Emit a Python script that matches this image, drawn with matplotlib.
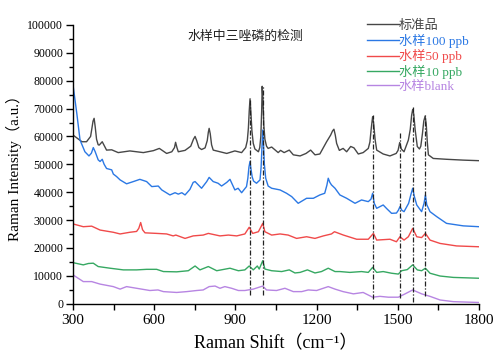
import matplotlib
matplotlib.use("Agg")
import matplotlib.pyplot as plt
import numpy as np

# wavenumber / intensity (x1000)
std_x = [300, 333, 350, 365, 370, 374, 378, 382, 387, 393, 397, 408, 424, 443, 467, 510, 560, 597, 619,
         646, 665, 675, 679, 684, 689, 714, 735, 745, 751, 757, 765, 775, 788, 796, 800, 803, 807, 812,
         818, 843, 868, 898, 923, 938, 944, 948, 951, 954, 957, 961, 966, 972, 985, 990, 994, 997, 999,
         1002, 1005, 1009, 1015, 1021, 1034, 1058, 1067, 1080, 1099, 1114, 1139, 1161, 1178, 1194, 1212,
         1237, 1252, 1259, 1264, 1269, 1274, 1284, 1298, 1311, 1326, 1338, 1354, 1372, 1391, 1397, 1402,
         1407, 1411, 1416, 1422, 1446, 1471, 1494, 1501, 1507, 1513, 1523, 1539, 1546, 1551, 1555, 1559,
         1564, 1572, 1580, 1585, 1591, 1596, 1601, 1605, 1609, 1613, 1631, 1680, 1742, 1800]
std_y = [60.5, 58.1, 58.1, 60, 63, 65.5, 66.5, 63.5, 59, 57, 56.9, 58.1, 55.1, 55.2, 54.2, 54.8, 54.2,
         54.9, 55.7, 53.9, 54.5, 56, 57.9, 56, 54.5, 55, 56.5, 59, 60, 58.5, 56, 55.3, 55.9, 58.5, 61.5,
         62.9, 61, 57, 55.1, 54.5, 53.9, 54.8, 54.2, 56, 58.5, 63, 69, 73.5, 69, 62, 57.5, 55.5, 54.5,
         56, 60, 69, 78, 73, 64, 59, 56.5, 55.7, 56.2, 54.2, 55, 54.2, 55.1, 53.4, 53, 53.9, 55.1, 53.4,
         53.7, 58.1, 60.5, 62, 62.6, 60.5, 57.5, 55, 55.7, 54.5, 56.4, 55.9, 53.7, 54.2, 55.7, 58, 63,
         67.1, 64.5, 59, 55.1, 53.7, 53, 53.9, 55, 57.8, 55.5, 54.5, 58.7, 62.5, 67.5, 69.7, 68, 62.5,
         56.4, 55.5, 56.5, 61, 65.5, 67.3, 64.5, 58, 53.4, 52.1, 51.8, 51.5, 51.3]

p100_x = [300, 314, 326, 344, 359, 368, 375, 382, 393, 400, 408, 415, 424, 443, 449, 461, 474, 498, 523,
          547, 572, 591, 615, 628, 658, 677, 689, 702, 714, 732, 744, 751, 763, 775, 794, 803, 818, 836,
          849, 868, 880, 898, 910, 923, 941, 946, 950, 954, 958, 962, 967, 978, 991, 995, 998, 1001, 1004,
          1007, 1012, 1021, 1034, 1065, 1089, 1108, 1132, 1163, 1188, 1212, 1230, 1238, 1243, 1249, 1255,
          1268, 1286, 1311, 1342, 1366, 1391, 1401, 1407, 1413, 1422, 1446, 1460, 1477, 1495, 1502, 1508,
          1515, 1523, 1540, 1548, 1555, 1561, 1570, 1588, 1597, 1602, 1607, 1619, 1644, 1680, 1742, 1800]
p100_y = [78.5, 68.3, 58.7, 54.5, 53, 54, 56, 54.5, 51.6, 51, 51.8, 50, 48.5, 48, 46.5, 45.6, 44.4, 43,
          43.8, 44.6, 43.8, 42, 42.2, 40.8, 39, 39.8, 39.3, 39.8, 39, 41, 43.5, 43.8, 42.6, 41.4, 43.8,
          45.3, 43.8, 43.2, 42.2, 43.5, 44.6, 40.8, 41.4, 39.8, 42, 45, 49, 51, 48, 45.5, 44, 43.2, 44.4,
          49, 56, 62.3, 57, 50, 45, 42.2, 41.4, 40.8, 39.6, 38.4, 36, 37.8, 37.8, 39, 39.6, 42.5, 45, 43.5,
          42.6, 41.4, 39, 37.8, 36, 37.2, 36.6, 37.5, 39.6, 36, 34.2, 35.4, 34, 32.4, 32.5, 33.5, 34.8,
          33.5, 33, 36, 39, 41.4, 38.5, 35.4, 33, 36, 39, 35.5, 33, 31.2, 28.8, 27.9, 27.6]

p50_x = [300, 338, 369, 400, 449, 474, 510, 535, 543, 550, 557, 566, 609, 646, 670, 680, 714, 744, 781,
         800, 843, 874, 905, 935, 951, 964, 985, 1001, 1009, 1034, 1065, 1095, 1126, 1163, 1194, 1225,
         1255, 1266, 1299, 1348, 1391, 1410, 1422, 1471, 1495, 1508, 1523, 1539, 1555, 1570, 1588, 1602,
         1619, 1656, 1717, 1800]
p50_y = [28.6, 27.6, 27.8, 26.4, 25.6, 25, 25.6, 25.9, 27, 29.1, 26.5, 25.4, 25.2, 25, 24.3, 24.6, 23.4,
         24.3, 24.6, 25.2, 24.3, 24.6, 24.3, 25, 27.4, 25.2, 25.8, 28.8, 25.8, 24.6, 25, 24.6, 23.4, 24,
         23.4, 24.3, 25, 25.8, 24.6, 23.1, 23.1, 25.2, 22.8, 23.1, 22.2, 24, 22.8, 24, 27, 24, 23.7,
         25.2, 22.8, 21.6, 20.7, 20.4]

p10_x = [300, 338, 357, 375, 393, 437, 486, 535, 572, 609, 634, 683, 726, 751, 769, 800, 831, 880, 911,
         935, 951, 966, 981, 988, 1001, 1009, 1034, 1071, 1099, 1120, 1139, 1166, 1194, 1218, 1243, 1268,
         1286, 1323, 1366, 1391, 1407, 1422, 1446, 1477, 1502, 1514, 1535, 1555, 1572, 1588, 1602, 1619,
         1656, 1705, 1800]
p10_y = [14.7, 13.9, 14.4, 14.5, 13.3, 12.7, 12.1, 12.1, 12.3, 12.3, 11.5, 11.4, 11.8, 13.5, 12.1, 13.3,
         11.8, 12.7, 11.8, 12.1, 13.5, 12.1, 13.5, 12.4, 15.4, 12.4, 11.8, 11.5, 12.1, 11, 11.2, 12.1,
         11, 11.5, 12.7, 11.5, 11.5, 11.2, 11.5, 11.2, 13, 11.2, 11.5, 10.9, 10.6, 11.8, 12.2, 13.9,
         12.1, 11.8, 12.7, 10.9, 9.9, 9.4, 9.1]

blank_x = [300, 338, 369, 400, 449, 474, 498, 535, 584, 614, 634, 683, 720, 757, 781, 803, 825, 843, 861,
           886, 911, 935, 966, 1001, 1015, 1052, 1083, 1114, 1145, 1169, 1200, 1243, 1268, 1298, 1336,
           1372, 1407, 1434, 1465, 1502, 1527, 1555, 1588, 1619, 1656, 1705, 1800]
blank_y = [10.3, 7.9, 7.9, 7, 6.1, 5.2, 6.1, 5.5, 4.7, 4.9, 4.3, 4, 4.3, 4.7, 4.9, 6.1, 6.3, 5.5, 6.1,
           5.5, 4.7, 4.7, 5.2, 6.3, 4.9, 4.7, 5.5, 4.3, 4.3, 4.9, 4.7, 6.1, 5.2, 4.3, 3.5, 4, 2.3, 2.6,
           2.3, 2.3, 3.5, 4.9, 3.5, 2.6, 1.3, 0.7, 0.4]

# marker lines at characteristic peaks
peak_x = [954, 1001, 1407, 1507, 1555, 1601]
peak_top = [73.7, 78.4, 67.7, 61.1, 70.7, 67.7]
peak_bot = [3.1, 3.1, 1.5, 2.0, 0.7, 2.7]

labels = ["标准品", "水样100 ppb", "水样50 ppb", "水样10 ppb", "水样blank"]
colors = ["#474747", "#2b78e4", "#f04a4a", "#36a862", "#b785e2"]
series = [(std_x, std_y), (p100_x, p100_y), (p50_x, p50_y), (p10_x, p10_y), (blank_x, blank_y)]

serif = ["Liberation Serif", "Noto Sans CJK SC", "DejaVu Serif"]
plt.rcParams["font.family"] = serif

fig = plt.figure(figsize=(5.0, 3.61), dpi=100)
ax = fig.add_axes([73 / 500, 1 - 303.6 / 361, 406 / 500, 278.6 / 361])

ax.vlines(peak_x, np.array(peak_bot) * 1000, np.array(peak_top) * 1000,
          colors="#222222", linewidth=0.9, linestyles=(0, (4, 1.5, 1, 1.5)), zorder=3)

for (x, y), lab, c in zip(series, labels, colors):
    ax.plot(x, np.array(y) * 1000, color=c, lw=1.0, label=lab, zorder=2)

ax.set_xlim(300, 1800)
ax.set_ylim(0, 100000)
ax.set_xticks([300, 600, 900, 1200, 1500, 1800])
ax.set_xticks([450, 750, 1050, 1350, 1650], minor=True)
ax.set_yticks(np.arange(0, 100001, 10000))
ax.set_yticks(np.arange(5000, 100000, 10000), minor=True)
ax.tick_params(axis="x", which="major", labelsize=11, length=4, direction="out", width=1)
ax.tick_params(axis="x", which="minor", length=4, direction="out", width=1)
ax.tick_params(axis="y", which="major", labelsize=8.5, length=5, direction="out", width=1, pad=2)
ax.tick_params(axis="y", which="minor", length=3, direction="out", width=1)

for s in ["top", "right"]:
    ax.spines[s].set_visible(False)
for s in ["left", "bottom"]:
    ax.spines[s].set_linewidth(1.0)

ax.set_xlabel("Raman Shift（cm⁻¹）", fontsize=13, labelpad=6)
ax.set_ylabel("Raman Intensity（a.u.）", fontsize=11, labelpad=4)

ax.text(722, 95700, "水样中三唑磷的检测", fontsize=9.3, va="center", ha="left", color="#222222")

fig.legend(loc="upper left", bbox_to_anchor=(367 / 500, 1 - 19.5 / 361), frameon=False,
           labelcolor="linecolor", fontsize=9.5, handlelength=2.4, handletextpad=0,
           borderpad=0, borderaxespad=0, labelspacing=0.13)

fig.savefig("out.png", dpi=100)
